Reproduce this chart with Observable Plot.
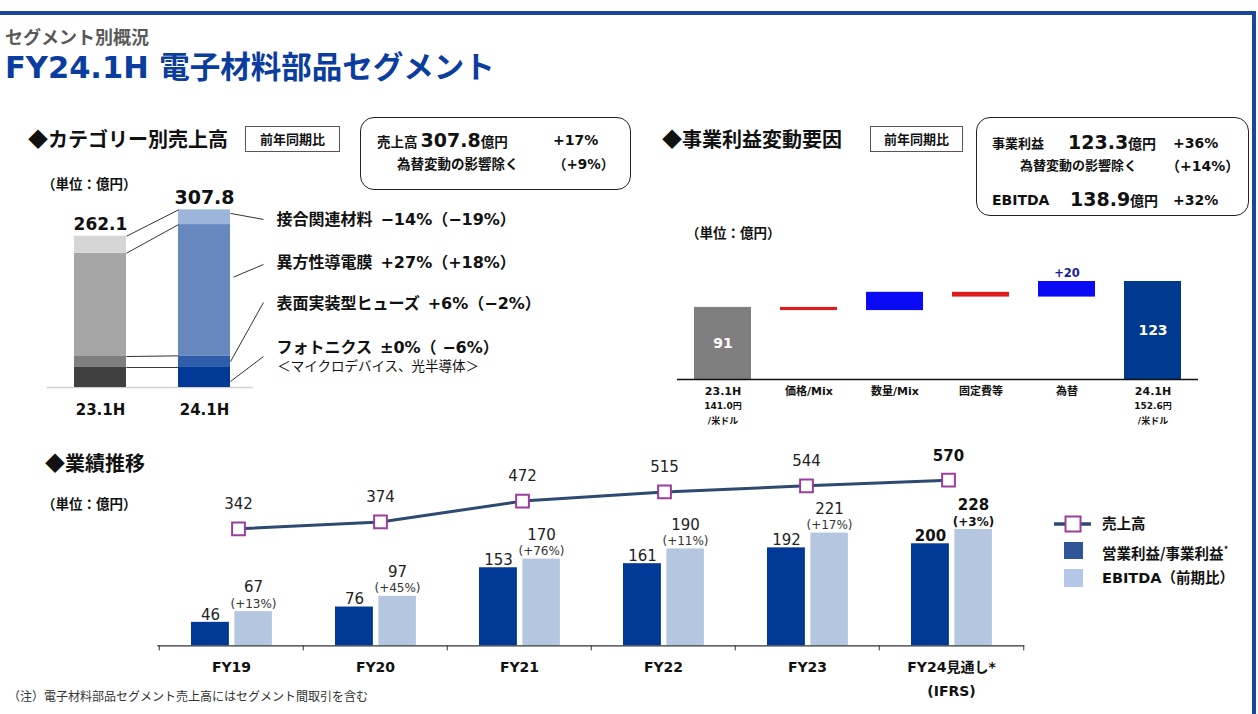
<!DOCTYPE html>
<html><head><meta charset="utf-8">
<script src="https://cdn.jsdelivr.net/npm/d3@7"></script>
<script src="https://cdn.jsdelivr.net/npm/@observablehq/plot@0.6"></script>
<style>
body{margin:0;background:#fff;}
#page{position:relative;width:1258px;height:714px;overflow:hidden;font-family:"Noto Sans CJK JP",sans-serif;color:#111;}
.t{position:absolute;white-space:nowrap;}
.box{position:absolute;border:1.5px solid #222;border-radius:14px;box-sizing:border-box;}
.tag{position:absolute;border:1px solid #555;box-sizing:border-box;font-weight:700;font-size:13px;text-align:center;line-height:24px;}
.lat{font-family:"DejaVu Sans","Noto Sans CJK JP",sans-serif;}
.plot{position:absolute;}
.plot svg{overflow:visible;}
</style></head><body><div id="page"></div>
<script>
// ---------- data ----------
const catPeriods = ["23.1H", "24.1H"];
const catSegments = ["フォトニクス", "表面実装型ヒューズ", "異方性導電膜", "接合関連材料"]; // bottom → top
const catValues231 = [34.7, 19.0, 179.0, 29.4];
const catValues241 = [34.7, 20.1, 227.5, 25.5];
const catTotals = [262.1, 307.8];
const catChange = ["±0%（ −6%）", "+6%（−2%）", "+27%（+18%）", "−14%（−19%）"];
const catNote = "＜マイクロデバイス、光半導体＞";

const wfSteps = ["23.1H", "価格/Mix", "数量/Mix", "固定費等", "為替", "24.1H"];
const wfValues = [90.7, -4, 23, -6, 19.6, 123.3];
const wfLabels = ["91", "", "", "", "+20", "123"];
const wfRates = ["141.0円\n/米ドル", "", "", "", "", "152.6円\n/米ドル"];

const years = ["FY19", "FY20", "FY21", "FY22", "FY23", "FY24"];
const yearLabels = ["FY19", "FY20", "FY21", "FY22", "FY23", "FY24見通し*"];
const yearSubLabels = ["", "", "", "", "", "(IFRS)"];
const sales = [342, 374, 472, 515, 544, 570];
const opProfit = [46, 76, 153, 161, 192, 200];
const ebitda = [67, 97, 170, 190, 221, 228];
const ebitdaChange = ["(+13%)", "(+45%)", "(+76%)", "(+11%)", "(+17%)", "(+3%)"];

// ---------- page helpers ----------
const page = document.getElementById("page");
const FONT = "'DejaVu Sans','Noto Sans CJK JP',sans-serif";
function div(cls, css, html) {
  const d = document.createElement("div");
  d.className = cls; if (html !== undefined) d.innerHTML = html;
  Object.assign(d.style, css); page.appendChild(d); return d;
}
function txt(x, yc, html, size, o = {}) {
  const lh = Math.round(size * 1.4);
  return div("t" + (o.lat ? " lat" : ""), {left: x + "px", top: (yc - lh / 2) + "px", lineHeight: lh + "px",
    fontSize: size + "px", fontWeight: o.w ?? 700, color: o.c ?? "#111"}, html);
}
function place(node, x, y) {
  const d = div("plot", {left: x + "px", top: y + "px"}); d.appendChild(node);
}

// frame
div("", {position: "absolute", left: "0px", top: "10.5px", width: "1256px", height: "4px", background: "#1a479c"});
div("", {position: "absolute", left: "1252px", top: "10.5px", width: "4px", height: "704px", background: "#1a479c"});

txt(5, 36, "セグメント別概況", 18, {c: "#595959"});
txt(5, 67, "FY24.1H 電子材料部品セグメント", 30.5, {c: "#0b3d9e", lat: true});

// section 1 headers
txt(28, 139, "◆カテゴリー別売上高", 20);
div("tag", {left: "245px", top: "126px", width: "95px", height: "26px"}, "前年同期比");
div("box", {left: "360px", top: "117px", width: "271px", height: "73px"});
txt(377, 140, "売上高 <span class='lat' style='font-size:19px'>307.8</span>億円", 13.5);
txt(553, 140, "+17%", 14, {lat: true});
txt(397, 163, "為替変動の影響除く", 13.5);
txt(553, 163, "（<span class='lat'>+9%</span>）", 13.5);
txt(42, 183, "（単位：億円）", 13.5);

// section 2 headers
txt(662, 139, "◆事業利益変動要因", 20);
div("tag", {left: "870px", top: "126px", width: "93px", height: "26px"}, "前年同期比");
div("box", {left: "976px", top: "117px", width: "273px", height: "99px"});
txt(992, 143, "事業利益", 13);
txt(1068, 142, "<span class='lat' style='font-size:19px'>123.3</span>億円", 14);
txt(1173, 143, "+36%", 14, {lat: true});
txt(1020, 165, "為替変動の影響除く", 13);
txt(1166, 165, "（<span class='lat'>+14%</span>）", 14);
txt(992, 200, "EBITDA", 14, {lat: true});
txt(1070, 199, "<span class='lat' style='font-size:19px'>138.9</span>億円", 14);
txt(1173, 200, "+32%", 14, {lat: true});
txt(686, 232, "（単位：億円）", 13.5);

// section 3 headers
txt(45, 463, "◆業績推移", 20);
txt(42, 503, "（単位：億円）", 13.5);
txt(8, 695, "（注）電子材料部品セグメント売上高にはセグメント間取引を含む", 12, {w: 400, c: "#333"});

// ---------- chart 1: category stacked bars ----------
{
  const grays = ["#404040", "#7f7f7f", "#a6a6a6", "#d6d6d6"];
  const blues = ["#003a96", "#2f5da9", "#6789c0", "#9db5db"];
  const sets = [catValues231, catValues241];
  const rows = [];
  sets.forEach((vals, i) => { let c = 0; vals.forEach((v, j) => { rows.push({i, j, y1: c, y2: c + v}); c += v; }); });
  const lev = sets.map(v => Array.from(d3.cumsum(v)));
  const links = catSegments.map((s, j) => ({y1: lev[0][j], y2: lev[1][j]}));
  // annotation layout (value units) for leader lines and labels
  const anchorFrac = [0.3, 0.5, 0.6, 0.76];
  const labelAt = [69.3, 145.6, 216.6, 291.2];
  const leaderEnd = [53.7, 147.3, 213.2, 291.2];
  const leaders = catSegments.map((s, j) => ({
    y1: (lev[1][j] - catValues241[j]) + anchorFrac[j] * catValues241[j], y2: leaderEnd[j], j}));
  const labels = catSegments.map((s, j) => ({text: s + "\u2002" + catChange[j], y: labelAt[j]}));
  const W = 620, H = 260;
  const p = Plot.plot({
    width: W, height: H, marginTop: 0, marginBottom: 43, marginLeft: 0, marginRight: 0,
    x: {type: "linear", domain: [-100 / 104, (W - 100) / 104], axis: null},
    y: {domain: [0, 376], axis: null},
    color: {type: "identity"},
    style: {fontFamily: FONT, color: "#111", background: "transparent"},
    marks: [
      Plot.ruleY([0], {x1: -0.51, x2: 1.47, stroke: "#d0d0d0", strokeWidth: 1.5}),
      Plot.rect(rows, {x1: d => d.i - 0.25, x2: d => d.i + 0.25, y1: "y1", y2: "y2", fill: d => (d.i ? blues : grays)[d.j]}),
      Plot.link(links, {x1: 0.25, x2: 0.75, y1: "y1", y2: "y2", stroke: "#333", strokeWidth: 1}),
      Plot.link(leaders, {x1: d => d.j === 2 ? 1.28 : 1.25, x2: 1.567, y1: "y1", y2: "y2", stroke: "#333", strokeWidth: 1}),
      Plot.text(catPeriods, {x: (d, i) => i, y: 0, dy: 23, text: d => d, fontSize: 15, fontWeight: 700}),
      Plot.text(catTotals, {x: (d, i) => i, y: d => d, dy: -12, text: d => d.toFixed(1), fontSize: 17, fontWeight: 700, filter: (d, i) => i === 0}),
      Plot.text(catTotals, {x: (d, i) => i, y: d => d, dy: -12, text: d => d.toFixed(1), fontSize: 19, fontWeight: 700, filter: (d, i) => i === 1}),
      Plot.text(labels, {x: 1.692, y: "y", text: "text", textAnchor: "start", fontSize: 16, fontWeight: 700}),
      Plot.text([catNote], {x: 1.70, y: 36.4, text: d => d, textAnchor: "start", fontSize: 13.5, fontWeight: 400})
    ]
  });
  place(p, 0, 170);
}

// ---------- chart 2: waterfall ----------
{
  let cum = 0;
  const last = wfSteps.length - 1;
  const wf = wfSteps.map((s, i) => {
    const v = wfValues[i]; let lo, hi, kind;
    if (i === 0) { lo = 0; hi = v; cum = v; kind = "start"; }
    else if (i === last) { lo = 0; hi = v; kind = "end"; }
    else { lo = Math.min(cum, cum + v); hi = Math.max(cum, cum + v); cum += v; kind = v < 0 ? "neg" : "pos"; }
    return {step: s, lo, hi, kind, label: wfLabels[i], rate: wfRates[i]};
  });
  const col = {start: "#7f7f7f", neg: "#e01b1b", pos: "#0a0af5", end: "#003a8e"};
  const p = Plot.plot({
    width: 560, height: 180, marginTop: 0, marginBottom: 51, marginLeft: 17, marginRight: 22,
    x: {domain: wfSteps, paddingInner: 0.34, paddingOuter: 0.17, axis: null},
    y: {domain: [0, 162.3], axis: null},
    color: {type: "identity"},
    style: {fontFamily: FONT, color: "#111", background: "transparent"},
    marks: [
      Plot.barY(wf, {x: "step", y1: "lo", y2: "hi", fill: d => col[d.kind]}),
      Plot.ruleY([0], {stroke: "#111", strokeWidth: 1.5}),
      Plot.text(wf.filter(d => d.kind === "start" || d.kind === "end"), {x: "step", y: d => d.hi / 2, text: "label", fill: "white", fontSize: 14, fontWeight: 700}),
      Plot.text(wf.filter(d => d.kind === "pos" && d.label), {x: "step", y: "hi", dy: -8, text: "label", fill: "#1a1aa0", fontSize: 11.5, fontWeight: 700}),
      Plot.text(wf, {x: "step", y: 0, dy: 12, text: "step", fontSize: 11, fontWeight: 700}),
      Plot.text(wf.filter(d => d.rate), {x: "step", y: 0, dy: 32.5, text: "rate", fontSize: 9, fontWeight: 700, lineHeight: 1.65})
    ]
  });
  place(p, 660, 250);
}

// ---------- chart 3: performance bars + sales line ----------
{
  const perf = years.map((y, i) => ({year: y, label: yearLabels[i], sub: yearSubLabels[i], sales: sales[i], op: opProfit[i], ebitda: ebitda[i], chg: ebitdaChange[i], fc: yearLabels[i].includes("見通し")}));
  const half = (880 - 7.3 - 5.7) / years.length / 2;
  const bars = Plot.plot({
    width: 880, height: 240, marginTop: 0, marginBottom: 64.7, marginLeft: 7.3, marginRight: 5.7,
    x: {domain: years, paddingInner: 0, paddingOuter: 0, axis: null},
    y: {domain: [0, 343.7], axis: null},
    style: {fontFamily: FONT, color: "#222", background: "transparent"},
    marks: [
      Plot.barY(perf, {x: "year", y: "op", fill: "#003a96", insetLeft: 32, insetRight: 74.1}),
      Plot.barY(perf, {x: "year", y: "ebitda", fill: "#b4c6e0", insetLeft: 75.4, insetRight: 31.1}),
      Plot.ruleY([0], {stroke: "#333", strokeWidth: 1.2}),
      Plot.ruleX(years, {x: d => d, y1: 0, y2: -10, dx: -half, stroke: "#333"}),
      Plot.ruleX(years.slice(-1), {x: d => d, y1: 0, y2: -10, dx: half, stroke: "#333"}),
      Plot.text(perf.filter(d => !d.fc), {x: "year", y: "op", dx: -21, dy: -7.5, text: "op", fontSize: 15, fill: "#222"}),
      Plot.text(perf.filter(d => d.fc), {x: "year", y: "op", dx: -21, dy: -8, text: "op", fontSize: 15, fontWeight: 700, fill: "#111"}),
      Plot.text(perf.filter(d => !d.fc), {x: "year", y: "ebitda", dx: 22, dy: -24, text: "ebitda", fontSize: 15, fill: "#222"}),
      Plot.text(perf.filter(d => d.fc), {x: "year", y: "ebitda", dx: 22, dy: -24.5, text: "ebitda", fontSize: 15, fontWeight: 700, fill: "#111"}),
      Plot.text(perf.filter(d => !d.fc), {x: "year", y: "ebitda", dx: 22, dy: -7.7, text: "chg", fontSize: 12, fill: "#333"}),
      Plot.text(perf.filter(d => d.fc), {x: "year", y: "ebitda", dx: 22, dy: -7.5, text: "chg", fontSize: 12, fontWeight: 700, fill: "#111"}),
      Plot.text(perf, {x: "year", y: 0, dy: 22, text: "label", fontSize: 14, fontWeight: 700, fill: "#111"}),
      Plot.text(perf.filter(d => d.sub), {x: "year", y: 0, dy: 45.5, text: "sub", fontSize: 14, fontWeight: 700, fill: "#111"})
    ]
  });
  place(bars, 150, 470);

  const line = Plot.plot({
    width: 880, height: 110, marginTop: 0, marginBottom: 0, marginLeft: 0, marginRight: 0,
    x: {type: "point", domain: years, range: [87.3, 798.3], padding: 0, axis: null},
    y: {domain: [300, 600], range: [97.25, 33.35], axis: null},
    style: {fontFamily: FONT, color: "#222", background: "transparent"},
    marks: [
      Plot.line(perf, {x: "year", y: "sales", stroke: "#2d4a70", strokeWidth: 3}),
      Plot.dot(perf, {x: "year", y: "sales", symbol: "square", r: 7.2, fill: "white", stroke: "#9c3d9c", strokeWidth: 2}),
      Plot.text(perf.filter(d => !d.fc), {x: "year", y: "sales", dy: -24.5, text: "sales", fontSize: 15, fill: "#222"}),
      Plot.text(perf.filter(d => d.fc), {x: "year", y: "sales", dy: -24.5, text: "sales", fontSize: 15, fontWeight: 700, fill: "#111"})
    ]
  });
  place(line, 150, 440);
}

// ---------- legend ----------
{
  const sv = div("", {position: "absolute", left: "1054px", top: "513.5px", width: "40px", height: "18px"});
  sv.innerHTML = "<svg width='40' height='18'><line x1='0' y1='9' x2='37' y2='9' stroke='#2d4a70' stroke-width='3.5'/><rect x='11.5' y='1.5' width='15' height='15' fill='white' stroke='#9c3d9c' stroke-width='2'/></svg>";
  txt(1102, 523, "売上高", 14.5);
  div("", {position: "absolute", left: "1064px", top: "541.5px", width: "19px", height: "17.5px", background: "#2f5597"});
  txt(1102, 550, "営業利益/事業利益<sup style='font-size:9px'>*</sup>", 14.5);
  div("", {position: "absolute", left: "1064px", top: "568.5px", width: "19px", height: "18px", background: "#b4c7e7"});
  txt(1102, 577, "<span class='lat'>EBITDA</span>（前期比）", 14.5);
}
</script></body></html>
